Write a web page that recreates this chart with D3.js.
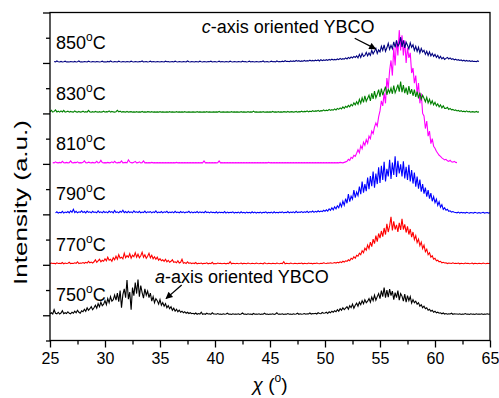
<!DOCTYPE html>
<html><head><meta charset="utf-8">
<script src="https://cdn.jsdelivr.net/npm/d3@7"></script>
<style>body{margin:0;background:#fff}svg{display:block}text{font-family:Arial,"Liberation Sans",sans-serif}</style>
</head><body>
<svg id="c" width="499" height="398"></svg>
<script>
// x positions: chi angle, 25..65 in 0.125 deg steps (321 points), one row per degree below
const angles = d3.range(0, 321).map(i => 25 + i * 0.125);
const temps = ["750", "770", "790", "810", "830", "850"];
const offsets = [1, 3, 5, 7, 9, 11];
const colors = ["#000000", "#ff0000", "#0000ff", "#ff00ff", "#008000", "#000080"];

const s750 = [
.06,.10,.05,.22,.08,.06,.12,.05,
.09,.18,.06,.10,.07,.14,.08,.06,
.12,.08,.16,.10,.20,.12,.08,.18,
.14,.24,.16,.30,.20,.26,.34,.22,
.30,.40,.28,.46,.34,.52,.38,.44,
.58,.42,.66,.50,.74,.56,.62,.80,
.60,.88,.54,.98,.30,.82,1.05,.70,
1.40,.64,.92,.22,1.10,.78,1.30,.86,
1.42,.74,1.18,.90,.68,1.05,.80,.96,
.70,.88,.56,.74,.50,.66,.58,.44,
.62,.40,.50,.36,.46,.30,.38,.26,
.34,.20,.28,.16,.24,.14,.20,.12,
.16,.10,.14,.08,.12,.07,.10,.06,
.08,.05,.09,.04,.07,.05,.12,.04,
.06,.04,.08,.05,.06,.04,.10,.05,
.05,.04,.07,.04,.05,.03,.06,.04,
.05,.08,.04,.05,.03,.06,.04,.05,
.04,.06,.03,.05,.09,.04,.05,.03,
.06,.04,.05,.03,.07,.04,.05,.04,
.06,.03,.05,.04,.08,.04,.05,.03,
.05,.04,.06,.03,.05,.10,.04,.05,
.04,.06,.03,.05,.04,.07,.04,.05,
.03,.06,.04,.05,.08,.04,.06,.04,
.05,.07,.04,.06,.05,.09,.05,.07,
.06,.08,.05,.10,.07,.06,.11,.08,
.09,.12,.07,.14,.10,.16,.12,.18,
.14,.22,.16,.26,.20,.30,.22,.28,
.34,.24,.38,.30,.44,.28,.40,.48,
.36,.52,.42,.58,.46,.62,.50,.56,
.66,.52,.72,.58,.80,.60,.74,.86,
.66,.98,.74,1.10,.70,1.00,.72,1.04,
.78,.96,.62,.90,.70,.98,.60,.86,
.76,.56,.84,.52,.78,.58,.74,.48,
.62,.50,.56,.44,.50,.36,.42,.30,
.36,.26,.30,.20,.24,.16,.20,.12,
.16,.10,.12,.08,.10,.06,.09,.05,
.07,.04,.06,.05,.08,.04,.06,.05,
.05,.04,.06,.03,.05,.04,.07,.04,
.05,.03,.06,.04,.05,.03,.06,.04,
.05,.04,.06,.03,.05,.04,.06,.04,
.05];

const s770 = [
.04,.07,.05,.06,.04,.08,.05,.06,
.05,.09,.04,.07,.05,.06,.10,.05,
.06,.05,.08,.06,.12,.05,.07,.06,
.09,.06,.10,.07,.14,.08,.11,.07,
.12,.20,.10,.16,.22,.12,.18,.14,
.24,.16,.30,.18,.22,.14,.28,.20,
.34,.22,.40,.26,.30,.24,.46,.28,
.36,.30,.44,.26,.38,.32,.48,.30,
.42,.28,.36,.50,.30,.40,.26,.34,
.46,.28,.38,.24,.32,.22,.30,.18,
.24,.16,.20,.14,.22,.12,.18,.10,
.14,.20,.10,.12,.08,.16,.07,.10,
.22,.06,.09,.05,.12,.06,.08,.05,
.07,.05,.09,.04,.06,.05,.07,.04,
.06,.05,.08,.04,.06,.05,.10,.04,
.05,.04,.07,.05,.06,.04,.05,.06,
.04,.06,.05,.12,.04,.06,.05,.04,
.06,.04,.05,.07,.04,.06,.05,.04,
.07,.05,.04,.06,.05,.04,.07,.05,
.04,.06,.05,.04,.08,.05,.04,.06,
.05,.04,.06,.05,.04,.07,.05,.04,
.06,.05,.12,.04,.06,.05,.04,.07,
.05,.04,.06,.05,.04,.06,.05,.07,
.04,.06,.05,.04,.07,.05,.06,.04,
.06,.05,.07,.05,.04,.06,.05,.08,
.06,.05,.07,.06,.08,.06,.07,.09,
.07,.10,.08,.12,.09,.14,.11,.16,
.14,.20,.16,.26,.22,.32,.26,.38,
.34,.46,.40,.56,.48,.66,.58,.78,
.64,.90,.72,1.02,.84,1.16,.92,1.24,
1.06,1.34,1.12,1.46,1.20,1.62,1.30,1.54,
1.90,1.36,1.72,1.40,1.58,1.30,1.66,1.38,
1.82,1.40,1.60,1.28,1.52,1.20,1.42,1.10,
1.30,1.00,1.16,.88,1.02,.76,.90,.64,
.78,.52,.62,.40,.48,.30,.36,.22,
.26,.16,.18,.12,.14,.08,.10,.07,
.08,.05,.07,.06,.05,.08,.05,.06,
.05,.07,.04,.06,.05,.04,.07,.05,
.06,.04,.05,.07,.04,.06,.05,.04,
.06,.05,.04,.07,.05,.04,.06,.05,
.06];

const s790 = [
null,null,null,null,.06,.10,.05,.08,
.06,.12,.05,.09,.07,.11,.06,.14,
.08,.20,.07,.12,.06,.10,.08,.14,
.07,.11,.06,.13,.08,.10,.06,.12,
.08,.09,.06,.14,.07,.10,.06,.12,
.07,.10,.06,.13,.08,.11,.06,.15,
.07,.10,.06,.12,.08,.16,.07,.11,
.06,.12,.07,.10,.06,.14,.08,.10,
.07,.12,.06,.09,.07,.13,.06,.10,
.08,.11,.06,.10,.07,.14,.06,.09,
.07,.11,.06,.10,.08,.12,.06,.09,
.07,.10,.06,.12,.07,.09,.06,.11,
.07,.10,.06,.09,.08,.12,.06,.10,
.06,.09,.07,.11,.06,.10,.07,.09,
.06,.12,.07,.09,.06,.10,.07,.08,
.06,.10,.05,.09,.07,.08,.06,.11,
.05,.09,.06,.08,.07,.10,.05,.08,
.06,.09,.05,.10,.06,.08,.05,.09,
.06,.08,.05,.10,.06,.09,.05,.08,
.06,.09,.05,.08,.07,.10,.05,.08,
.06,.09,.05,.10,.06,.08,.06,.09,
.07,.10,.06,.08,.07,.11,.06,.09,
.07,.10,.06,.12,.07,.09,.08,.11,
.07,.10,.08,.12,.07,.11,.09,.13,
.08,.12,.09,.14,.10,.13,.11,.16,
.12,.18,.13,.22,.16,.26,.18,.30,
.22,.34,.26,.44,.30,.52,.36,.62,
.44,.80,.50,.72,.60,.96,.66,.88,
.74,1.10,.80,1.30,.86,1.20,.92,1.46,
1.00,1.52,1.12,1.70,1.06,1.62,1.20,1.86,
1.24,1.92,1.36,2.08,1.30,1.80,1.50,2.16,
1.40,2.05,1.56,2.30,1.48,2.12,1.62,1.98,
1.50,2.10,1.42,1.88,1.36,1.96,1.30,1.76,
1.22,1.66,1.10,1.50,1.02,1.38,.90,1.20,
.82,1.06,.70,.96,.62,.84,.52,.70,
.46,.60,.36,.50,.28,.38,.20,.26,
.16,.20,.12,.14,.09,.11,.08,.07,
.06,.09,.05,.08,.06,.07,.05,.08,
.06,.05,.07,.06,.05,.08,.06,.05,
.07,.05,.06,.08,.05,.06,.07,.05,
.06];

const s810 = [
null,null,.05,.04,.08,.05,.04,.06,
.04,.10,.05,.04,.06,.04,.05,.12,
.05,.04,.06,.05,.08,.04,.05,.04,
.06,.12,.05,.04,.07,.05,.04,.06,
.04,.05,.10,.04,.05,.14,.05,.04,
.05,.04,.06,.04,.05,.08,.04,.10,
.05,.04,.06,.05,.12,.04,.05,.06,
.04,.16,.08,.05,.04,.06,.10,.04,
.05,.08,.04,.05,.12,.04,.05,.04,
.05,.04,.06,.04,.05,.04,.05,.04,
.05,.04,.05,.04,.05,.04,.05,.04,
.05,.04,.05,.04,.06,.04,.05,.04,
.05,.04,.05,.04,.05,.04,.05,.04,
.05,.04,.05,.04,.05,.04,.05,.04,
.12,.04,.05,.04,.05,.04,.05,.04,
.05,.04,.05,.12,.04,.05,.04,.05,
.04,.05,.04,.05,.04,.05,.04,.05,
.04,.05,.04,.05,.04,.05,.04,.05,
.04,.05,.04,.05,.04,.05,.04,.05,
.04,.05,.04,.05,.04,.05,.04,.06,
.04,.05,.04,.05,.04,.05,.04,.05,
.04,.05,.04,.05,.04,.05,.04,.05,
.04,.05,.04,.05,.04,.05,.04,.05,
.04,.05,.04,.05,.04,.05,.04,.05,
.04,.05,.04,.05,.04,.05,.04,.05,
.04,.05,.04,.05,.04,.05,.04,.05,
.04,.05,.04,.06,.05,.04,.06,.08,
.10,.18,.14,.26,.22,.34,.30,.42,
.56,.44,.72,.60,.86,.74,.96,.82,
1.10,1.00,1.30,1.20,1.46,1.62,1.50,1.86,
2.10,2.50,2.30,2.80,2.40,3.40,3.00,3.70,
4.10,3.50,4.60,3.90,4.90,4.30,5.30,4.50,
5.10,4.30,4.90,4.00,4.60,4.20,4.40,3.60,
3.80,3.20,3.50,2.80,3.20,2.40,2.80,2.00,
1.90,1.40,1.70,1.10,1.30,.80,1.00,.70,
.62,.50,.42,.34,.30,.24,.20,.16,
.18,.12,.10,.14,.08,.07,.10,.06,
.05,null,null,null,null,null,null,null,
null,null,null,null,null,null,null,null,
null,null,null,null,null,null,null,null,
null];

const s830 = [
.06,.12,.05,.08,.14,.06,.09,.05,
.10,.06,.12,.05,.07,.09,.05,.08,
.06,.05,.10,.06,.05,.08,.05,.06,
.09,.05,.07,.05,.12,.06,.05,.07,
.05,.08,.06,.05,.07,.05,.06,.09,
.05,.07,.06,.10,.05,.08,.06,.05,
.07,.12,.06,.09,.05,.07,.06,.05,
.08,.05,.06,.07,.05,.06,.05,.07,
.05,.06,.05,.08,.05,.06,.05,.07,
.06,.05,.07,.05,.06,.05,.06,.05,
.07,.05,.06,.05,.05,.06,.05,.07,
.05,.06,.05,.05,.07,.05,.06,.05,
.06,.05,.07,.05,.05,.06,.05,.05,
.06,.05,.05,.07,.05,.06,.05,.05,
.06,.05,.07,.05,.06,.05,.05,.06,
.05,.06,.05,.08,.05,.05,.06,.05,
.05,.06,.05,.05,.07,.05,.06,.05,
.06,.05,.05,.07,.05,.06,.05,.05,
.07,.05,.06,.05,.09,.05,.06,.05,
.05,.06,.05,.07,.05,.05,.06,.05,
.06,.05,.08,.05,.06,.05,.07,.05,
.06,.05,.07,.06,.05,.08,.05,.06,
.07,.05,.06,.08,.05,.07,.06,.09,
.06,.08,.07,.10,.06,.09,.07,.11,
.08,.10,.09,.12,.08,.11,.10,.14,
.10,.13,.11,.16,.12,.15,.13,.18,
.14,.20,.16,.22,.18,.26,.20,.28,
.24,.32,.26,.36,.30,.42,.34,.46,
.36,.56,.40,.62,.44,.70,.48,.60,
.72,.50,.80,.58,.88,.62,.76,.94,
.66,.98,.72,.90,1.06,.74,.96,.82,
1.00,.78,1.10,.82,.96,1.14,.86,1.26,
.84,1.12,.80,1.02,.74,1.08,.78,.96,
.70,.94,.66,.86,.60,.82,.56,.72,
.60,.46,.64,.42,.56,.38,.50,.34,
.44,.30,.38,.26,.34,.22,.30,.20,
.20,.24,.16,.20,.14,.16,.12,.14,
.10,.12,.08,.11,.07,.09,.06,.10,
.06,.08,.05,.07,.06,.05,.08,.05,
.06,null,null,null,null,null,null,null,
null];

const s850 = [
null,null,null,.06,.04,.08,.05,.04,
.06,.04,.05,.07,.04,.05,.04,.06,
.05,.04,.06,.04,.05,.08,.04,.05,
.04,.06,.05,.04,.07,.05,.04,.06,
.05,.04,.06,.05,.04,.05,.07,.04,
.05,.04,.06,.04,.08,.05,.04,.06,
.05,.04,.07,.05,.04,.06,.05,.04,
.06,.05,.04,.07,.05,.04,.06,.05,
.04,.06,.05,.08,.04,.05,.06,.04,
.05,.07,.04,.06,.05,.04,.06,.05,
.04,.06,.05,.04,.07,.05,.06,.04,
.05,.06,.04,.07,.05,.04,.06,.05,
.04,.06,.05,.04,.08,.05,.04,.06,
.05,.04,.06,.05,.04,.07,.05,.04,
.06,.05,.04,.06,.05,.07,.04,.05,
.06,.04,.05,.07,.04,.06,.05,.04,
.06,.05,.04,.07,.05,.04,.06,.05,
.04,.06,.05,.04,.07,.05,.06,.04,
.05,.07,.04,.06,.05,.04,.06,.05,
.04,.06,.05,.08,.04,.05,.06,.04,
.05,.07,.05,.06,.04,.08,.05,.06,
.05,.07,.05,.09,.06,.07,.05,.08,
.06,.08,.06,.10,.07,.09,.06,.08,
.07,.10,.07,.09,.08,.11,.08,.10,
.08,.11,.09,.12,.08,.13,.09,.12,
.10,.13,.10,.14,.11,.15,.12,.14,
.12,.16,.13,.18,.14,.17,.15,.20,
.16,.22,.18,.24,.20,.26,.22,.28,
.20,.34,.22,.38,.26,.30,.42,.28,
.40,.30,.50,.36,.46,.58,.38,.52,
.44,.66,.50,.72,.46,.60,.78,.54,
.70,.56,.84,.62,.90,.66,.76,1.02,
.64,.90,.60,.82,.70,.56,.80,.62,
.72,.50,.66,.46,.62,.40,.58,.44,
.50,.34,.46,.30,.44,.28,.38,.26,
.34,.22,.30,.18,.26,.16,.22,.14,
.18,.22,.16,.20,.14,.17,.12,.15,
.11,.13,.10,.12,.08,.11,.07,.10,
.07,.09,.06,.08,.06,.07,.05,.08,
.06,null,null,null,null,null,null,null,
null];

const series = [s750, s770, s790, s810, s830, s850];
series.forEach((s, k) => { if (s.length !== angles.length) throw new Error("series " + temps[k] + " has " + s.length); });
const xTicks = [25, 30, 35, 40, 45, 50, 55, 60, 65];
const xMinor = [27.5, 32.5, 37.5, 42.5, 47.5, 52.5, 57.5, 62.5];
const yMajor = [1, 3, 5, 7, 9, 11, 13];
const yMinor = [0, 2, 4, 6, 8, 10, 12];

const svg = d3.select("#c");
const x = d3.scaleLinear().domain([25, 65]).range([50, 490]);
const y = d3.scaleLinear().domain([0, 13]).range([340.5, 12.5]);

// traces
const line = d3.line().defined(d => d != null).x((d, i) => x(angles[i]));
series.forEach((s, k) => {
  svg.append("path")
    .attr("d", line.y(d => y(d + offsets[k]))(s))
    .attr("fill", "none").attr("stroke", colors[k]).attr("stroke-width", 1.1)
    .attr("stroke-linejoin", "miter");
});

// frame
svg.append("rect").attr("x", x(25)).attr("y", y(13)).attr("width", x(65) - x(25)).attr("height", y(0) - y(13))
  .attr("fill", "none").attr("stroke", "#000").attr("stroke-width", 1.3);

// x axis
const gx = svg.append("g").attr("transform", `translate(0,${y(0)})`)
  .call(d3.axisBottom(x).tickValues(xTicks).tickSize(7).tickPadding(5).tickFormat(d3.format("d")));
const gxm = svg.append("g").attr("transform", `translate(0,${y(0)})`)
  .call(d3.axisBottom(x).tickValues(xMinor).tickSize(4).tickFormat(""));
// y axis
const gy = svg.append("g").attr("transform", `translate(${x(25)},0)`)
  .call(d3.axisLeft(y).tickValues(yMajor).tickSize(7).tickFormat(""));
const gym = svg.append("g").attr("transform", `translate(${x(25)},0)`)
  .call(d3.axisLeft(y).tickValues(yMinor).tickSize(4).tickFormat(""));
[gx, gxm, gy, gym].forEach(g => {
  g.select(".domain").remove();
  g.selectAll("line").attr("stroke", "#000").attr("stroke-width", 1.3);
  g.selectAll("text").attr("font-size", 16).attr("fill", "#000").attr("font-family", "Arial, 'Liberation Sans', sans-serif");
});

// temperature labels
temps.forEach((t, k) => {
  const tx = svg.append("text").attr("x", x(25.55)).attr("y", y(offsets[k] + 0.55)).attr("font-size", 18).attr("fill", "#000");
  tx.append("tspan").text(t);
  tx.append("tspan").attr("font-size", 12).attr("dy", -8).text("o");
  tx.append("tspan").attr("dy", 8).text("C");
});

// annotations
const defs = svg.append("defs");
defs.append("marker").attr("id", "ah").attr("viewBox", "0 0 10 10").attr("refX", 9).attr("refY", 5)
  .attr("markerWidth", 9).attr("markerHeight", 7).attr("markerUnits", "userSpaceOnUse").attr("orient", "auto")
  .append("path").attr("d", "M0,0 L10,5 L0,10 z").attr("fill", "#000");

const annos = [
  {lead: "c", rest: "-axis oriented YBCO", tx: 38.8, ty: 12.19, a0: [52.7, 11.98], a1: [54.6, 11.56]},
  {lead: "a", rest: "-axis oriented YBCO", tx: 34.55, ty: 2.28, a0: [36.97, 2.2], a1: [35.55, 1.66]}
];
annos.forEach(a => {
  const t = svg.append("text").attr("x", x(a.tx)).attr("y", y(a.ty)).attr("font-size", 18).attr("fill", "#000");
  t.append("tspan").attr("font-style", "italic").text(a.lead);
  t.append("tspan").text(a.rest);
  svg.append("line").attr("x1", x(a.a0[0])).attr("y1", y(a.a0[1])).attr("x2", x(a.a1[0])).attr("y2", y(a.a1[1]))
    .attr("stroke", "#000").attr("stroke-width", 1.3).attr("marker-end", "url(#ah)");
});

// axis titles
const xt = svg.append("text").attr("x", 270).attr("y", 391).attr("text-anchor", "middle").attr("font-size", 19).attr("fill", "#000");
xt.append("tspan").attr("font-style", "italic").text("χ");
xt.append("tspan").text(" (");
xt.append("tspan").attr("font-size", 12).attr("dy", -9).text("o");
xt.append("tspan").attr("dy", 9).text(")");

svg.append("text").attr("transform", "translate(27,202.5) rotate(-90)").attr("text-anchor", "middle")
  .attr("font-size", 18).attr("fill", "#000")
  .attr("textLength", 165).attr("lengthAdjust", "spacingAndGlyphs")
  .text("Intensity (a.u.)");
</script>
</body></html>
